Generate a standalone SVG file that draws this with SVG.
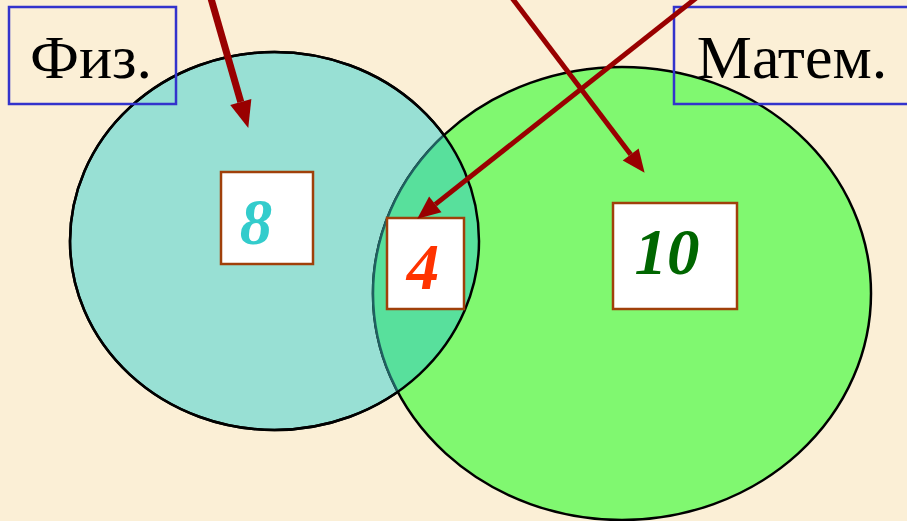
<svg xmlns="http://www.w3.org/2000/svg" width="907" height="521" viewBox="0 0 907 521">
<style>
.lbl{fill:#fff;stroke:#3333cc;stroke-width:2.5}
.lbltxt{font-family:"Liberation Serif",serif;font-size:62px;fill:#000;text-anchor:middle}
.num{fill:#fff;stroke:#a0400a;stroke-width:2.5}
.numtxt{font-family:"Liberation Serif",serif;font-size:65px;font-style:italic;font-weight:bold;text-anchor:middle}
.arr{stroke:#990000;fill:none}
</style>
<defs>
<marker id="ah1" markerUnits="userSpaceOnUse" markerWidth="30" markerHeight="26" refX="0" refY="13" orient="auto" overflow="visible"><path d="M0,2 L27,13 L0,24 Z" fill="#990000"/></marker>
<marker id="ah2" markerUnits="userSpaceOnUse" markerWidth="26" markerHeight="22" refX="0" refY="11" orient="auto" overflow="visible"><path d="M0,1 L23,11 L0,21 Z" fill="#990000"/></marker>
<clipPath id="clipGreen"><ellipse cx="622" cy="293.5" rx="249" ry="226.5"/></clipPath>
<clipPath id="clipBlue"><ellipse cx="274.5" cy="241" rx="204.5" ry="189"/></clipPath>
</defs>
<rect width="907" height="521" fill="#fbefd6"/>
<g id="set-phys">
<ellipse cx="274.5" cy="241" rx="204.5" ry="189" fill="#98e0d4" stroke="#000" stroke-width="2.5"/>
</g>
<g id="set-math">
<ellipse cx="622" cy="293.5" rx="249" ry="226.5" fill="#80f870" stroke="#000" stroke-width="2.5"/>
</g>
<g id="intersection">
<g clip-path="url(#clipGreen)">
<ellipse cx="274.5" cy="241" rx="204.5" ry="189" fill="#58e09c"/>
</g>
<g clip-path="url(#clipBlue)">
<ellipse cx="622" cy="293.5" rx="249" ry="226.5" fill="none" stroke="#1f6060" stroke-width="2.5"/>
</g>
<ellipse cx="274.5" cy="241" rx="204.5" ry="189" fill="none" stroke="#000" stroke-width="2.5"/>
</g>
<g id="label-phys">
<rect class="lbl" x="9" y="7" width="167" height="97" fill-opacity="0"/>
<text class="lbltxt" x="91" y="78">Физ.</text>
</g>
<g id="label-math">
<rect class="lbl" x="674" y="7" width="240" height="97" fill-opacity="0"/>
<text class="lbltxt" x="792" y="78">Матем.</text>
</g>
<g id="num-8">
<rect class="num" x="221" y="172" width="92" height="92"/>
<text class="numtxt" x="256" y="244" fill="#33cccc">8</text>
</g>
<g id="num-4">
<rect class="num" x="387" y="218" width="77" height="91"/>
<text class="numtxt" x="423" y="289" fill="#ff3300">4</text>
</g>
<g id="num-10">
<rect class="num" x="613" y="203" width="124" height="106"/>
<text class="numtxt" x="667" y="274" fill="#006600">10</text>
</g>
<g id="connectors">
<line class="arr" x1="210" y1="-5" x2="240.8" y2="102" stroke-width="7" marker-end="url(#ah1)"/>
<line class="arr" x1="512" y1="-2" x2="630.7" y2="154.5" stroke-width="5" marker-end="url(#ah2)"/>
<line class="arr" x1="700" y1="-5" x2="435.3" y2="204.4" stroke-width="5" marker-end="url(#ah2)"/>
</g>
</svg>
